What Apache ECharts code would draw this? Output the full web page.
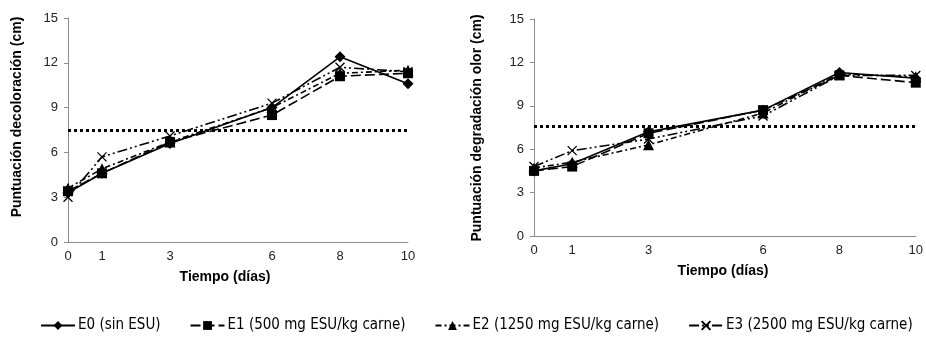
<!DOCTYPE html>
<html>
<head>
<meta charset="utf-8">
<script src="https://cdn.jsdelivr.net/npm/echarts@6/dist/echarts.min.js"></script>
<style>
  html, body { margin: 0; padding: 0; background: #fff; }
  #chart { width: 926px; height: 342px; }
</style>
</head>
<body>
<div id="chart"></div>
<script>
// dias de almacenamiento
var dias = [0, 1, 3, 6, 8, 10];
var nombres = ['E0 (sin ESU)', 'E1 (500 mg ESU/kg carne)', 'E2 (1250 mg ESU/kg carne)', 'E3 (2500 mg ESU/kg carne)'];

// puntuacion decoloracion (cm)
var decE0 = [3.3, 4.6, 6.6, 9.0, 12.4, 10.6];
var decE1 = [3.4, 4.6, 6.7, 8.5, 11.1, 11.3];
var decE2 = [3.6, 4.9, 6.7, 9.0, 11.3, 11.5];
var decE3 = [3.0, 5.7, 7.1, 9.3, 11.7, 11.4];
var limiteDec = 7.5;

// puntuacion degradacion olor (cm)
var olorE0 = [4.5, 5.0, 7.2, 8.7, 11.3, 10.9];
var olorE1 = [4.5, 4.8, 7.1, 8.7, 11.1, 10.6];
var olorE2 = [4.7, 5.1, 6.3, 8.5, 11.2, 11.0];
var olorE3 = [4.8, 5.9, 6.7, 8.3, 11.1, 11.1];
var limiteOlor = 7.6;

var ticksY = [0, 3, 6, 9, 12, 15];

var chart = echarts.init(document.getElementById('chart'));

var estilos = [
  { symbol: 'diamond', size: 11, dash: 'solid' },
  { symbol: 'rect', size: 10, dash: [10, 4] },
  { symbol: 'triangle', size: 11, dash: [6, 3, 2, 3] },
  { symbol: 'path://M0,0L10,10M10,0L0,10', size: 9, dash: [10, 3, 2, 3, 2, 3] }
];

function pares(vals) {
  return dias.map(function (d, i) { return [d, vals[i]]; });
}

function serie(idx, vals, grid, limite) {
  var e = estilos[idx];
  var cruz = idx === 3;
  var s = {
    name: nombres[idx],
    type: 'line',
    xAxisIndex: grid,
    yAxisIndex: grid,
    data: pares(vals),
    symbol: e.symbol,
    symbolSize: e.size,
    z: 10 - idx,
    lineStyle: { color: '#000', width: 1.6, type: e.dash },
    itemStyle: cruz ? { color: 'none', borderColor: '#000', borderWidth: 1.3 } : { color: '#000', borderColor: '#000', borderWidth: 0 },
    emphasis: { disabled: true },
    animation: false
  };
  if (idx === 0) {
    s.markLine = {
      silent: true,
      symbol: 'none',
      label: { show: false },
      lineStyle: { color: '#000', type: [3, 3], width: 3 },
      data: [{ yAxis: limite }]
    };
  }
  return s;
}

function ejeX(grid) {
  return {
    type: 'value', gridIndex: grid, min: 0, max: 10,
    splitLine: { show: false },
    axisLine: { lineStyle: { color: '#8c8c8c', width: 1 } },
    axisTick: { show: false },
    axisLabel: { customValues: dias, color: '#222', fontSize: 13, fontFamily: 'Liberation Sans', margin: 8 }
  };
}

function ejeY(grid) {
  return {
    type: 'value', gridIndex: grid, min: 0, max: 15, interval: 3,
    splitLine: { show: false },
    axisLine: { show: true, lineStyle: { color: '#8c8c8c', width: 1 } },
    axisTick: { show: true, length: 4, lineStyle: { color: '#8c8c8c' } },
    axisLabel: { customValues: ticksY, color: '#222', fontSize: 13, fontFamily: 'Liberation Sans', margin: 10 }
  };
}

var titulo = { fontFamily: 'Liberation Sans', fontWeight: 'bold', fontSize: 14, fill: '#000', align: 'center', verticalAlign: 'middle' };

option = {
  backgroundColor: '#fff',
  animation: false,
  grid: [
    { left: 68, top: 18, width: 340, height: 224 },
    { left: 534, top: 19, width: 383, height: 217 }
  ],
  xAxis: [ejeX(0), ejeX(1)],
  yAxis: [ejeY(0), ejeY(1)],
  legend: {
    data: nombres,
    left: 35,
    top: 313,
    itemWidth: 34,
    itemHeight: 11,
    itemGap: 29,
    textStyle: { fontFamily: "'DejaVu Sans Condensed', 'Liberation Sans'", fontSize: 15, color: '#000', padding: [0, 0, 0, -2] }
  },
  graphic: [
    { type: 'text', x: 17, y: 117, rotation: Math.PI / 2, style: Object.assign({ text: 'Puntuación decoloración (cm)' }, titulo) },
    { type: 'text', x: 477, y: 128, rotation: Math.PI / 2, style: Object.assign({ text: 'Puntuación degradación olor (cm)' }, titulo) },
    { type: 'text', x: 225, y: 277, style: Object.assign({ text: 'Tiempo (días)' }, titulo) },
    { type: 'text', x: 723, y: 271, style: Object.assign({ text: 'Tiempo (días)' }, titulo) }
  ],
  series: [
    serie(0, decE0, 0, limiteDec),
    serie(1, decE1, 0),
    serie(2, decE2, 0),
    serie(3, decE3, 0),
    serie(0, olorE0, 1, limiteOlor),
    serie(1, olorE1, 1),
    serie(2, olorE2, 1),
    serie(3, olorE3, 1)
  ]
};

chart.setOption(option);
</script>
</body>
</html>
